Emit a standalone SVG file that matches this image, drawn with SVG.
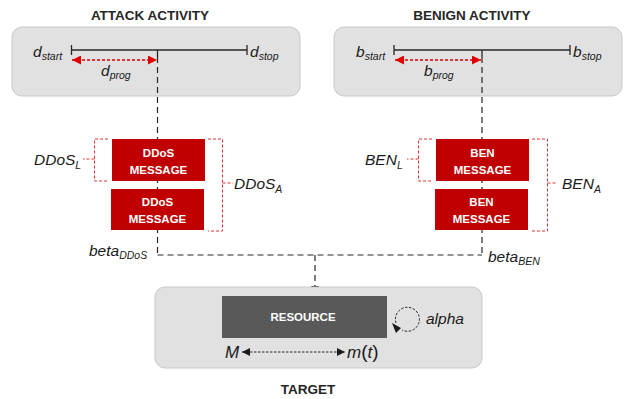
<svg xmlns="http://www.w3.org/2000/svg" width="624" height="399" viewBox="0 0 624 399">
<style>
.box{fill:#e1e1e1;stroke:#c9c9c9;stroke-width:1}
.title{font-family:"Liberation Sans",Arial,sans-serif;font-weight:bold;font-size:13.5px;fill:#262626;text-anchor:middle}
.lbl{font-family:"Liberation Sans",Arial,sans-serif;font-style:italic;font-size:15.5px;fill:#1a1a1a}
.sub{font-size:10.5px}
.msg{fill:#c00000}
.msgt{font-family:"Liberation Sans",Arial,sans-serif;font-weight:bold;font-size:11.5px;fill:#ffffff;text-anchor:middle}
.line{stroke:#262626;stroke-width:1.3;fill:none}
.dash{stroke:#262626;stroke-width:1.2;fill:none;stroke-dasharray:6 4}
.rdash{stroke:#e00000;stroke-width:1.3;fill:none;stroke-dasharray:3 2}
.rbr{stroke:#e03030;stroke-width:1;fill:none;stroke-dasharray:3 2}
.kdash{stroke:#262626;stroke-width:1;fill:none;stroke-dasharray:2.5 1.5}
</style>
<defs>
<marker id="ra" viewBox="0 0 10 10" refX="10" refY="5" markerWidth="9" markerHeight="9" markerUnits="userSpaceOnUse" orient="auto-start-reverse"><path d="M0,0 L10,5 L0,10 z" fill="#e00000"/></marker>
<marker id="ka" viewBox="0 0 10 10" refX="10" refY="5" markerWidth="8" markerHeight="8" markerUnits="userSpaceOnUse" orient="auto-start-reverse"><path d="M0,0 L10,5 L0,10 z" fill="#1a1a1a"/></marker>
</defs>
<rect width="624" height="399" fill="#ffffff"/>

<g id="attack-activity">
<text class="title" x="150" y="20">ATTACK ACTIVITY</text>
<rect class="box" x="12" y="27" width="288" height="69" rx="10"/>
<line class="line" x1="71.5" y1="50" x2="247" y2="50"/>
<line class="line" x1="71.5" y1="45" x2="71.5" y2="55"/>
<line class="line" x1="247" y1="45" x2="247" y2="55"/>
<line class="line" x1="157.5" y1="50" x2="157.5" y2="57"/>
<line class="rdash" x1="72" y1="60" x2="157" y2="60" marker-start="url(#ra)" marker-end="url(#ra)"/>
<text class="lbl" x="33" y="57">d<tspan class="sub" dy="3">start</tspan></text>
<text class="lbl" x="250" y="57">d<tspan class="sub" dy="3">stop</tspan></text>
<text class="lbl" x="101" y="76">d<tspan class="sub" dy="3">prog</tspan></text>
</g>

<g id="benign-activity">
<text class="title" x="472" y="20">BENIGN ACTIVITY</text>
<rect class="box" x="334" y="27" width="288" height="69" rx="10"/>
<line class="line" x1="394" y1="50" x2="570" y2="50"/>
<line class="line" x1="394" y1="45" x2="394" y2="55"/>
<line class="line" x1="570" y1="45" x2="570" y2="55"/>
<line class="line" x1="482" y1="50" x2="482" y2="57"/>
<line class="rdash" x1="395" y1="60" x2="481" y2="60" marker-start="url(#ra)" marker-end="url(#ra)"/>
<text class="lbl" x="356" y="57">b<tspan class="sub" dy="3">start</tspan></text>
<text class="lbl" x="573" y="57">b<tspan class="sub" dy="3">stop</tspan></text>
<text class="lbl" x="424" y="76">b<tspan class="sub" dy="3">prog</tspan></text>
</g>

<g id="connectors">
<line class="dash" x1="157.5" y1="57" x2="157.5" y2="255"/>
<line class="dash" x1="482" y1="57" x2="482" y2="255"/>
<line class="dash" x1="157.5" y1="255" x2="482" y2="255"/>
<line class="dash" x1="315" y1="255" x2="315" y2="294" marker-end="url(#ka)"/>
</g>

<g id="ddos-message-1">
<rect class="msg" x="112" y="139" width="93" height="42"/>
<text class="msgt" x="158.5" y="157">DDoS</text>
<text class="msgt" x="158.5" y="174">MESSAGE</text>
</g>
<g id="ddos-message-2">
<rect class="msg" x="111" y="189" width="93" height="41"/>
<text class="msgt" x="157.5" y="206">DDoS</text>
<text class="msgt" x="157.5" y="223">MESSAGE</text>
</g>
<g id="ddos-brackets">
<path class="rbr" d="M108,139 H94.5 V181 H108"/>
<line class="rbr" x1="94.5" y1="159" x2="83" y2="159"/>
<path class="rbr" d="M208,139 H222.5 V231 H208"/>
<line class="rbr" x1="222.5" y1="183" x2="233" y2="183"/>
<text class="lbl" x="34" y="165">DDoS<tspan class="sub" dy="4">L</tspan></text>
<text class="lbl" x="234" y="189">DDoS<tspan class="sub" dy="4">A</tspan></text>
<text class="lbl" x="89" y="256">beta<tspan class="sub" dy="3">DDoS</tspan></text>
</g>

<g id="ben-message-1">
<rect class="msg" x="436" y="139" width="93" height="42"/>
<text class="msgt" x="482.5" y="157">BEN</text>
<text class="msgt" x="482.5" y="174">MESSAGE</text>
</g>
<g id="ben-message-2">
<rect class="msg" x="435" y="189" width="93" height="41"/>
<text class="msgt" x="481.5" y="206">BEN</text>
<text class="msgt" x="481.5" y="223">MESSAGE</text>
</g>
<g id="ben-brackets">
<path class="rbr" d="M432,139 H418.5 V181 H432"/>
<line class="rbr" x1="418.5" y1="159" x2="407" y2="159"/>
<path class="rbr" d="M532,139 H547.5 V231 H532"/>
<line class="rbr" x1="547.5" y1="183" x2="557" y2="183"/>
<text class="lbl" x="365" y="165">BEN<tspan class="sub" dy="4">L</tspan></text>
<text class="lbl" x="562" y="189">BEN<tspan class="sub" dy="4">A</tspan></text>
<text class="lbl" x="488" y="262">beta<tspan class="sub" dy="3">BEN</tspan></text>
</g>

<g id="target">
<rect class="box" x="155" y="287" width="327" height="81" rx="10"/>
<rect x="222" y="296" width="165" height="42" fill="#595959"/>
<text class="msgt" x="303" y="321">RESOURCE</text>
<path class="kdash" d="M396,323 A12,12 0 1 1 402,330"/>
<path d="M392,323 L401,328 L396,333 z" fill="#1a1a1a"/>
<text class="lbl" x="426" y="324">alpha</text>
<text class="lbl" x="225" y="358" style="font-size:17px">M</text>
<line class="kdash" x1="242" y1="352" x2="345" y2="352" marker-start="url(#ka)" marker-end="url(#ka)"/>
<text class="lbl" x="347" y="358" style="font-size:17px">m<tspan style="font-style:normal;font-size:19px">(</tspan>t<tspan style="font-style:normal;font-size:19px">)</tspan></text>
<text class="title" x="308" y="394">TARGET</text>
</g>
</svg>
